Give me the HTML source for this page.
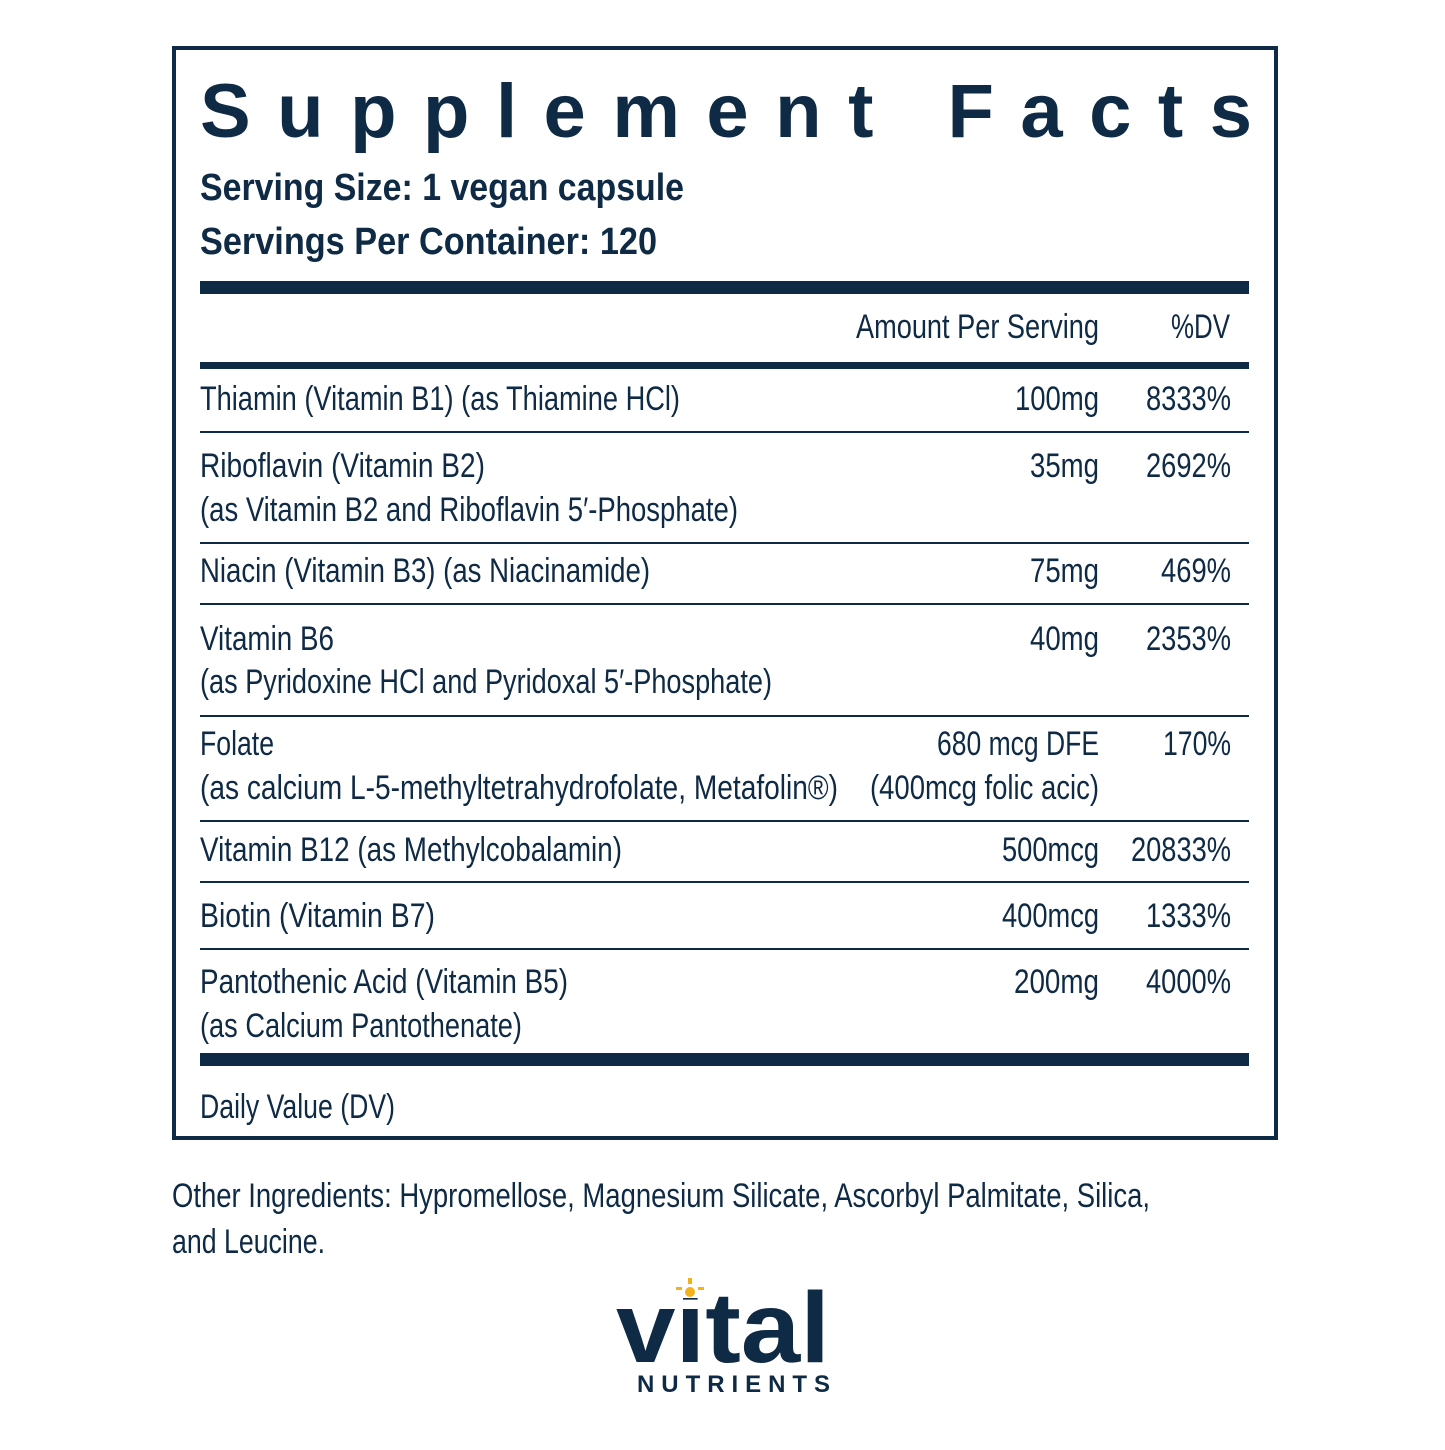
<!DOCTYPE html>
<html><head><meta charset="utf-8"><style>html,body{margin:0;padding:0;background:#fff}</style></head>
<body>
<svg width="1445" height="1445" viewBox="0 0 1445 1445" xmlns="http://www.w3.org/2000/svg" font-family="Liberation Sans, sans-serif" fill="#0f2a44">
<rect x="0" y="0" width="1445" height="1445" fill="#fff"/>
<rect x="174" y="48" width="1102" height="1090" fill="none" stroke="#0f2a44" stroke-width="4"/>
<text x="200" y="137" font-size="76" font-weight="bold" textLength="1052" lengthAdjust="spacing">Supplement Facts</text>
<text x="200" y="200" font-size="38" font-weight="bold" textLength="484" lengthAdjust="spacingAndGlyphs">Serving Size: 1 vegan capsule</text>
<text x="200" y="254" font-size="38" font-weight="bold" textLength="457" lengthAdjust="spacingAndGlyphs">Servings Per Container: 120</text>
<rect x="200" y="281" width="1049" height="13"/>
<g font-size="34">
<text x="856" y="338" textLength="243" lengthAdjust="spacingAndGlyphs">Amount Per Serving</text>
<text x="1171" y="338" textLength="59" lengthAdjust="spacingAndGlyphs">%DV</text>
</g>
<rect x="200" y="362" width="1049" height="7"/>
<g font-size="34">
<text x="200" y="410" textLength="480" lengthAdjust="spacingAndGlyphs">Thiamin (Vitamin B1) (as Thiamine HCl)</text>
<text x="1015" y="410" textLength="84" lengthAdjust="spacingAndGlyphs">100mg</text>
<text x="1146" y="410" textLength="85" lengthAdjust="spacingAndGlyphs">8333%</text>
<rect x="200" y="431" width="1049" height="2"/>
<text x="200" y="477" textLength="285" lengthAdjust="spacingAndGlyphs">Riboflavin (Vitamin B2)</text>
<text x="200" y="521" textLength="538" lengthAdjust="spacingAndGlyphs">(as Vitamin B2 and Riboflavin 5′-Phosphate)</text>
<text x="1030" y="477" textLength="69" lengthAdjust="spacingAndGlyphs">35mg</text>
<text x="1146" y="477" textLength="85" lengthAdjust="spacingAndGlyphs">2692%</text>
<rect x="200" y="542" width="1049" height="2"/>
<text x="200" y="582" textLength="450" lengthAdjust="spacingAndGlyphs">Niacin (Vitamin B3) (as Niacinamide)</text>
<text x="1030" y="582" textLength="69" lengthAdjust="spacingAndGlyphs">75mg</text>
<text x="1161" y="582" textLength="70" lengthAdjust="spacingAndGlyphs">469%</text>
<rect x="200" y="603" width="1049" height="2"/>
<text x="200" y="650" textLength="134" lengthAdjust="spacingAndGlyphs">Vitamin B6</text>
<text x="200" y="693" textLength="572" lengthAdjust="spacingAndGlyphs">(as Pyridoxine HCl and Pyridoxal 5′-Phosphate)</text>
<text x="1030" y="650" textLength="69" lengthAdjust="spacingAndGlyphs">40mg</text>
<text x="1146" y="650" textLength="85" lengthAdjust="spacingAndGlyphs">2353%</text>
<rect x="200" y="715" width="1049" height="2"/>
<text x="200" y="755" textLength="74" lengthAdjust="spacingAndGlyphs">Folate</text>
<text x="200" y="799" textLength="638" lengthAdjust="spacingAndGlyphs">(as calcium L-5-methyltetrahydrofolate, Metafolin®)</text>
<text x="937" y="755" textLength="162" lengthAdjust="spacingAndGlyphs">680 mcg DFE</text>
<text x="870" y="799" textLength="229" lengthAdjust="spacingAndGlyphs">(400mcg folic acic)</text>
<text x="1163" y="755" textLength="68" lengthAdjust="spacingAndGlyphs">170%</text>
<rect x="200" y="820" width="1049" height="2"/>
<text x="200" y="861" textLength="422" lengthAdjust="spacingAndGlyphs">Vitamin B12 (as Methylcobalamin)</text>
<text x="1002" y="861" textLength="97" lengthAdjust="spacingAndGlyphs">500mcg</text>
<text x="1131" y="861" textLength="100" lengthAdjust="spacingAndGlyphs">20833%</text>
<rect x="200" y="881" width="1049" height="2"/>
<text x="200" y="927" textLength="235" lengthAdjust="spacingAndGlyphs">Biotin (Vitamin B7)</text>
<text x="1002" y="927" textLength="97" lengthAdjust="spacingAndGlyphs">400mcg</text>
<text x="1146" y="927" textLength="85" lengthAdjust="spacingAndGlyphs">1333%</text>
<rect x="200" y="948" width="1049" height="2"/>
<text x="200" y="993" textLength="368" lengthAdjust="spacingAndGlyphs">Pantothenic Acid (Vitamin B5)</text>
<text x="200" y="1037" textLength="322" lengthAdjust="spacingAndGlyphs">(as Calcium Pantothenate)</text>
<text x="1014" y="993" textLength="85" lengthAdjust="spacingAndGlyphs">200mg</text>
<text x="1146" y="993" textLength="85" lengthAdjust="spacingAndGlyphs">4000%</text>
</g>
<rect x="200" y="1053" width="1049" height="13"/>
<text x="200" y="1118" font-size="34" textLength="195" lengthAdjust="spacingAndGlyphs">Daily Value (DV)</text>
<text x="172" y="1207" font-size="34" textLength="978" lengthAdjust="spacingAndGlyphs">Other Ingredients: Hypromellose, Magnesium Silicate, Ascorbyl Palmitate, Silica,</text>
<text x="172" y="1253" font-size="34" textLength="153" lengthAdjust="spacingAndGlyphs">and Leucine.</text>
<text x="616" y="1362" font-size="100" font-weight="bold" textLength="214" lengthAdjust="spacingAndGlyphs">vital</text>
<rect x="676" y="1276" width="30" height="22" fill="#fff"/>
<g fill="#f2b21b">
<circle cx="690" cy="1292" r="5"/><rect x="688" y="1278" width="4" height="6"/><rect x="676" y="1287" width="6" height="3"/><rect x="698" y="1287" width="6" height="3"/>
</g>
<text x="637" y="1392" font-size="24" font-weight="bold" textLength="193" lengthAdjust="spacing">NUTRIENTS</text>
</svg>
</body></html>
